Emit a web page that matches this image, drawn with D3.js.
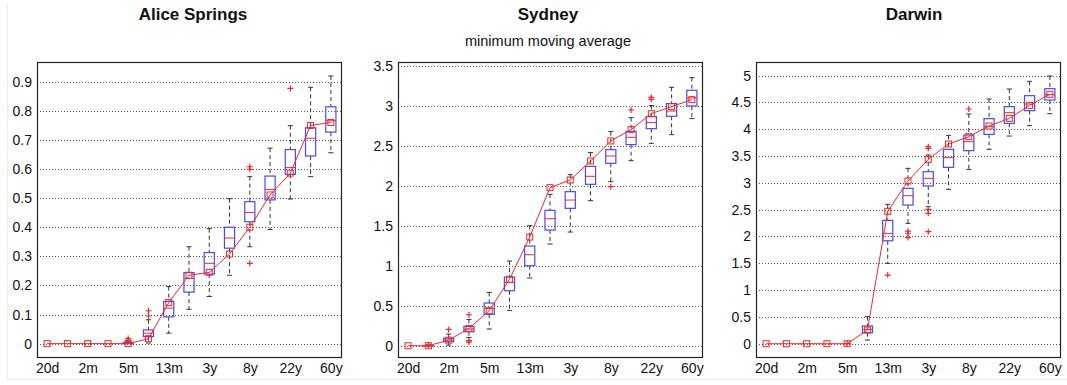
<!DOCTYPE html>
<html>
<head>
<meta charset="utf-8">
<script src="https://cdn.jsdelivr.net/npm/d3@7"></script>
<style>
  body { margin: 0; background: #fff; }
  svg { display: block; font-family: "Liberation Sans", Arial, sans-serif; }
</style>
</head>
<body>
<svg id="chart" width="1067" height="385"></svg>
<script>
// x categories (15 window lengths), only every other one is labelled
const positions = d3.range(1, 16);
const xTickPos = [1, 3, 5, 7, 9, 11, 13, 15];
const xTickLabels = ["20d", "2m", "5m", "13m", "3y", "8y", "22y", "60y"];

// boxes: [lowWhisker, q1, median, q3, highWhisker]
const aliceBoxes = [
  [0, 0, 0, 0, 0], [0, 0, 0, 0, 0], [0, 0, 0, 0, 0], [0, 0, 0, 0, 0],
  [0, 0, 0.001, 0.004, 0.008],
  [0.002, 0.024, 0.036, 0.047, 0.082],
  [0.036, 0.092, 0.122, 0.145, 0.196],
  [0.118, 0.177, 0.224, 0.244, 0.333],
  [0.162, 0.239, 0.276, 0.313, 0.395],
  [0.235, 0.328, 0.363, 0.400, 0.498],
  [0.333, 0.419, 0.451, 0.488, 0.574],
  [0.392, 0.494, 0.530, 0.576, 0.672],
  [0.497, 0.582, 0.605, 0.667, 0.749],
  [0.574, 0.645, 0.706, 0.742, 0.881],
  [0.656, 0.727, 0.766, 0.814, 0.920]
];
const aliceLine = [0, 0, 0, 0, 0, 0.017, 0.141, 0.235, 0.245, 0.308, 0.400, 0.511, 0.586, 0.750, 0.760];
const aliceOutliers = [[5, 0.018], [5, 0.012], [6, 0.113], [6, 0.095], [11, 0.608], [11, 0.599], [11, 0.276], [13, 0.877]];
const aliceTicks = [0, 0.1, 0.2, 0.3, 0.4, 0.5, 0.6, 0.7, 0.8, 0.9];

const sydneyBoxes = [
  [0, 0, 0, 0, 0],
  [0, 0, 0, 0.002, 0.005],
  [0.008, 0.050, 0.071, 0.094, 0.146],
  [0.104, 0.175, 0.209, 0.242, 0.330],
  [0.209, 0.393, 0.468, 0.535, 0.668],
  [0.443, 0.689, 0.794, 0.860, 1.061],
  [0.848, 1.002, 1.140, 1.249, 1.504],
  [1.274, 1.449, 1.591, 1.696, 1.896],
  [1.424, 1.721, 1.825, 1.930, 2.143],
  [1.817, 2.022, 2.122, 2.247, 2.419],
  [2.055, 2.285, 2.377, 2.456, 2.682],
  [2.318, 2.519, 2.611, 2.686, 2.857],
  [2.535, 2.719, 2.795, 2.870, 3.008],
  [2.644, 2.874, 2.940, 3.033, 3.237],
  [2.845, 3.003, 3.104, 3.200, 3.358]
];
const sydneyLine = [0, 0, 0.070, 0.217, 0.439, 0.831, 1.362, 1.980, 2.076, 2.314, 2.565, 2.707, 2.907, 2.995, 3.083];
const sydneyOutliers = [[2, 0.012], [2, 0.005], [3, 0.205], [4, 0.388], [4, 0.063], [4, 0.046], [11, 1.993], [12, 2.953], [13, 3.110], [13, 3.087]];
const sydneyTicks = [0, 0.5, 1, 1.5, 2, 2.5, 3, 3.5];

const darwinBoxes = [
  [0, 0, 0, 0, 0], [0, 0, 0, 0, 0], [0, 0, 0, 0, 0], [0, 0, 0, 0, 0], [0, 0, 0, 0, 0],
  [0.068, 0.205, 0.267, 0.330, 0.504],
  [1.499, 1.920, 2.058, 2.300, 2.600],
  [2.245, 2.587, 2.761, 2.898, 3.271],
  [2.556, 2.942, 3.085, 3.209, 3.520],
  [2.879, 3.290, 3.470, 3.626, 3.887],
  [3.252, 3.601, 3.769, 3.893, 4.285],
  [3.626, 3.905, 4.049, 4.198, 4.565],
  [3.874, 4.111, 4.310, 4.422, 4.751],
  [4.067, 4.347, 4.471, 4.627, 4.894],
  [4.291, 4.546, 4.646, 4.757, 4.994]
];
const darwinLine = [0, 0, 0, 0, 0, 0.255, 2.469, 3.035, 3.439, 3.725, 3.862, 4.061, 4.204, 4.446, 4.652];
const darwinOutliers = [[5, 0.004], [7, 1.281], [8, 2.10], [8, 2.06], [8, 1.98], [9, 3.675], [9, 3.644], [9, 2.506], [9, 2.432], [9, 2.09], [11, 4.378]];
const darwinTicks = [0, 0.5, 1, 1.5, 2, 2.5, 3, 3.5, 4, 4.5, 5];

const svg = d3.select("#chart");
const red = "#ee2a2a";
const blue = "#4a4af0";

// faint figure border
svg.append("path")
  .attr("d", "M7.5,4 V379.5 H1067")
  .attr("fill", "none")
  .attr("stroke", "#ececec");

const panels = [
  { title: "Alice Springs", titleX: 193, left: 37, yDomain: [-0.046, 0.968], boxes: aliceBoxes, line: aliceLine, outliers: aliceOutliers, ticks: aliceTicks },
  { title: "Sydney", titleX: 548, left: 398, yDomain: [-0.141, 3.554], boxes: sydneyBoxes, line: sydneyLine, outliers: sydneyOutliers, ticks: sydneyTicks, subtitle: "minimum moving average" },
  { title: "Darwin", titleX: 914, left: 756, yDomain: [-0.248, 5.255], boxes: darwinBoxes, line: darwinLine, outliers: darwinOutliers, ticks: darwinTicks }
];

const plotW = 304, plotTop = 62, plotBottom = 357;

panels.forEach(p => {
  const g = svg.append("g").attr("transform", `translate(${p.left},0)`);
  const x = d3.scaleLinear().domain([0.5, 15.5]).range([0, plotW]);
  const y = d3.scaleLinear().domain(p.yDomain).range([plotBottom, plotTop]);
  const bw = x(1.25) - x(1);   // half box width
  const cw = x(1.125) - x(1);  // half cap width

  // dotted grid
  g.selectAll(".grid")
    .data(p.ticks)
    .enter().append("line")
    .attr("x1", 0).attr("x2", plotW)
    .attr("y1", d => Math.round(y(d)) + 0.5).attr("y2", d => Math.round(y(d)) + 0.5)
    .attr("stroke", "#555")
    .attr("stroke-dasharray", "1,2");

  // y tick labels
  const yAxis = d3.axisLeft(y).tickValues(p.ticks).tickSize(0).tickPadding(5).tickFormat(d3.format("~g"));
  g.append("g").call(yAxis)
    .call(a => a.select(".domain").remove())
    .selectAll("text")
    .style("font-size", "14px")
    .attr("fill", "#111");

  // x tick labels
  const xAxis = d3.axisBottom(x).tickValues(xTickPos).tickSize(0).tickPadding(6)
    .tickFormat((d, i) => xTickLabels[i]);
  g.append("g").attr("transform", `translate(0,${plotBottom})`).call(xAxis)
    .call(a => a.select(".domain").remove())
    .selectAll("text")
    .style("font-size", "14px")
    .attr("fill", "#111");

  const boxData = p.boxes.map((b, i) => ({ pos: positions[i], lo: b[0], q1: b[1], med: b[2], q3: b[3], hi: b[4] }))
    .filter(d => d.hi > d.lo);

  const boxes = g.selectAll(".box").data(boxData).enter().append("g");

  // dashed whiskers
  boxes.append("line")
    .attr("x1", d => x(d.pos)).attr("x2", d => x(d.pos))
    .attr("y1", d => y(d.hi)).attr("y2", d => y(d.q3))
    .attr("stroke", "#333").attr("stroke-dasharray", "4,3");
  boxes.append("line")
    .attr("x1", d => x(d.pos)).attr("x2", d => x(d.pos))
    .attr("y1", d => y(d.q1)).attr("y2", d => y(d.lo))
    .attr("stroke", "#333").attr("stroke-dasharray", "4,3");
  // caps
  ["hi", "lo"].forEach(k => {
    boxes.append("line")
      .attr("x1", d => x(d.pos) - cw).attr("x2", d => x(d.pos) + cw)
      .attr("y1", d => y(d[k])).attr("y2", d => y(d[k]))
      .attr("stroke", "#333");
  });
  // box
  boxes.append("rect")
    .attr("x", d => x(d.pos) - bw)
    .attr("y", d => y(d.q3))
    .attr("width", bw * 2)
    .attr("height", d => Math.max(0.5, y(d.q1) - y(d.q3)))
    .attr("fill", "none")
    .attr("stroke", blue)
    .attr("stroke-width", 1.2);
  // median
  boxes.append("line")
    .attr("x1", d => x(d.pos) - bw).attr("x2", d => x(d.pos) + bw)
    .attr("y1", d => y(d.med)).attr("y2", d => y(d.med))
    .attr("stroke", red);

  // outliers
  g.selectAll(".out")
    .data(p.outliers)
    .enter().append("path")
    .attr("d", d => `M${x(d[0]) - 3},${y(d[1])}h6M${x(d[0])},${y(d[1]) - 3}v6`)
    .attr("stroke", red)
    .attr("stroke-width", 1.2);

  // red line with square markers
  const lineGen = d3.line().x((d, i) => x(positions[i])).y(d => y(d));
  g.append("path")
    .datum(p.line)
    .attr("d", lineGen)
    .attr("fill", "none")
    .attr("stroke", red)
    .attr("stroke-width", 1);
  g.selectAll(".sq")
    .data(p.line)
    .enter().append("rect")
    .attr("x", (d, i) => x(positions[i]) - 3)
    .attr("y", d => y(d) - 3)
    .attr("width", 6).attr("height", 6)
    .attr("fill", "none")
    .attr("stroke", red)
    .attr("stroke-width", 1);

  // frame
  g.append("rect")
    .attr("x", 0.5).attr("y", plotTop + 0.5)
    .attr("width", plotW).attr("height", plotBottom - plotTop)
    .attr("fill", "none")
    .attr("stroke", "#222")
    .attr("stroke-width", 1.2);

  // titles
  svg.append("text")
    .attr("x", p.titleX).attr("y", 20)
    .attr("text-anchor", "middle")
    .style("font-size", "17px")
    .style("font-weight", "bold")
    .attr("fill", "#111")
    .text(p.title);
  if (p.subtitle) {
    svg.append("text")
      .attr("x", p.titleX).attr("y", 46)
      .attr("text-anchor", "middle")
      .style("font-size", "14.5px")
      .attr("fill", "#111")
      .text(p.subtitle);
  }
});
</script>
</body>
</html>
